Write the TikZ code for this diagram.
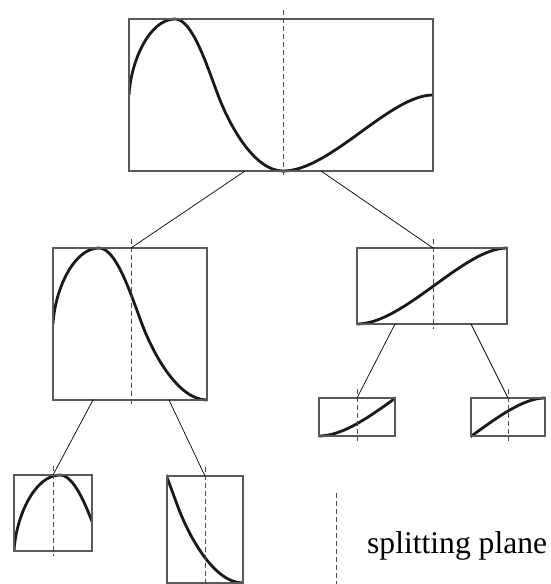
\documentclass[tikz,border=0pt]{standalone}
\usepackage{fontspec}
\setmainfont{Liberation Serif}
\usetikzlibrary{calc}
\tikzset{
  kdbox/.style={draw=black!65, line width=1.1pt, inner sep=0pt, fill=none},
  kdcurve/.style={draw=black!90, line width=2.8pt, line cap=butt},
  splitline/.style={draw=black!70, line width=1pt, dash pattern=on 5pt off 3pt},
  conn/.style={draw=black, line width=0.7pt},
}
\newcommand{\kdcurvedraw}{\draw[kdcurve] (129,95) .. controls (131,60) and (150,19) .. (175,19)
   .. controls (192,19) and (206,63) .. (218,95)
   .. controls (230,127) and (255,171) .. (283,171)
   .. controls (330,171) and (390,95) .. (433,95);}
% #1 name, #2..#5 region of the top curve (x1,y1,x2,y2), #6 split x (top coords), #7 dx, #8 dy
\newcommand{\kdnode}[8]{%
  \begin{scope}[shift={(#7,#8)}]
    \begin{scope}
      \clip (#2,#4-4) rectangle (#3,#5+4);
      \kdcurvedraw
    \end{scope}
    \node[kdbox, minimum width={(#3-#2)*1pt}, minimum height={(#5-#4)*1pt}] (#1) at ({(#2+#3)/2},{(#4+#5)/2}) {};
    \coordinate (#1-st) at (#6,#4-9);
    \coordinate (#1-sb) at (#6,#5+5);
    \coordinate (#1-top) at (#6,#4);
    \coordinate (#1-bot) at (#6,#5);
    \draw[splitline] (#1-st) -- (#1-sb);
  \end{scope}}
\begin{document}
\begin{tikzpicture}[x=1pt,y=-1pt]
\useasboundingbox (0,0) rectangle (550,584);
% root
\kdnode{root}{129}{433}{19}{171}{283}{0}{0}
% second level
\kdnode{lm}{129}{283}{19}{171}{207}{-76}{229}
\kdnode{rm}{283}{433}{95}{171}{359}{74}{153}
% third level
\kdnode{ll}{129}{207}{19}{95}{168}{-115}{456}
\kdnode{lr}{207}{283}{64}{171}{245}{-40}{412}
\kdnode{rl}{283}{359}{133}{171}{321}{36}{265}
\kdnode{rr}{359}{433}{95}{133}{396}{112}{303}
% connectors
\draw[conn] ([xshift=-38pt]root-bot) -- (lm-top);
\draw[conn] ([xshift=38pt]root-bot) -- (rm-top);
\draw[conn] ([xshift=-38pt]lm-bot) -- (ll-top);
\draw[conn] ([xshift=38pt]lm-bot) -- (lr-top);
\draw[conn] ([xshift=-38pt]rm-bot) -- (rl-top);
\draw[conn] ([xshift=38pt]rm-bot) -- (rr-top);
% legend
\coordinate (lega) at (336,493);
\coordinate (legb) at (336,584);
\draw[splitline] (lega) -- (legb);
\node[anchor=base west, inner sep=0pt, font=\fontsize{31.6}{38}\selectfont] (legtext) at (367,553) {splitting plane};
\end{tikzpicture}
\end{document}
